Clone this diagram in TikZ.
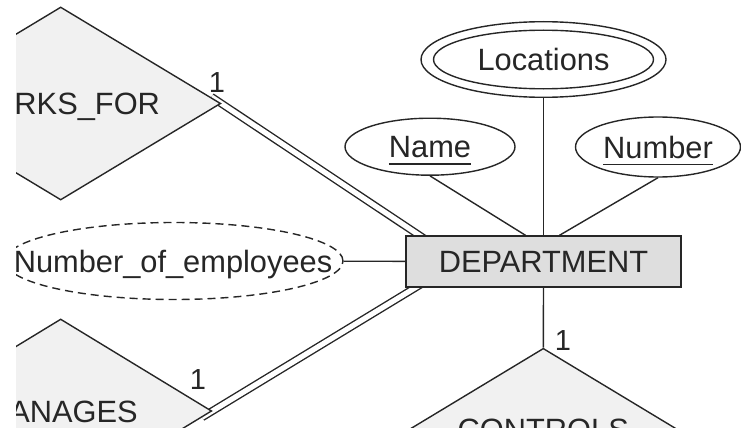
\documentclass[tikz,border=0pt]{standalone}
\usepackage{fontspec}
\setmainfont{Liberation Sans}
\usetikzlibrary{shapes.geometric}
\pgfdeclarelayer{background}
\pgfsetlayers{background,main}
\definecolor{ink}{HTML}{262626}
\definecolor{relfill}{HTML}{F1F1F1}
\definecolor{entfill}{HTML}{DEDEDE}
% key attribute: text with a rule under it
\newcommand\keyul[1]{\setbox0\hbox{#1}\rlap{\rule[-7.2pt]{\wd0}{1.7pt}}\box0}
\begin{document}
\begin{tikzpicture}[x=1pt,y=-1pt,
  every node/.style={font=\fontsize{30.8}{36}\selectfont, text=ink,
    text height=22.2pt, text depth=0pt, inner sep=0pt},
  line/.style={draw=ink, line width=1.4pt},
  attr/.style={line, ellipse, fill=white},
  rel/.style={line, diamond, aspect=1.66, fill=relfill},
  ent/.style={line, rectangle, fill=entfill},
  total/.style={draw=ink, line width=1.4pt, double=white, double distance=5.2pt,
    shorten <=-12pt, shorten >=-8pt},
  card/.style={font=\fontsize{29}{34}\selectfont, text height=20.5pt}
]
\useasboundingbox (0,0) rectangle (741,428);
\begin{scope}
  \clip (16,0) rectangle (741,428);
  % entity
  \node[ent, minimum width=275pt, minimum height=51pt] (dept) at (543.5,261.5) {DEPARTMENT};
  % relationships
  \node[rel, minimum width=320pt, minimum height=193pt] (works) at (60.7,103.5) {WORKS\_FOR};
  \node[rel, minimum width=302pt, minimum height=184pt] (manages) at (60.7,411) {MANAGES};
  \node[rel, minimum width=268pt, minimum height=162pt] (controls) at (543.3,429.3) {CONTROLS};
  % attributes
  \node[attr, minimum width=245pt, minimum height=75.6pt] (loc) at (543.5,59.5) {Locations};
  \draw[line] (loc.center) ellipse [x radius=110pt, y radius=29.3pt];
  \node[attr, minimum width=170pt, minimum height=57pt] (name) at (430,146.7) {\keyul{Name}};
  \node[attr, minimum width=165pt, minimum height=60pt] (number) at (658,147) {\keyul{Number}};
  \node[attr, dash pattern=on 8pt off 5pt, minimum width=338pt, minimum height=77pt] (noe) at (174,261) {};
  \node (noetext) at ([xshift=-1pt]noe.center) {Number\_of\_employees};
  % attribute links
  \draw[line] (loc.south) -- (dept.north);
  \draw[line] (name.south) -- ([xshift=-18pt]dept.north);
  \draw[line] (number.south) -- ([xshift=16pt]dept.north);
  \draw[line] (noe) -- (dept);
  \draw[line] (dept.south) -- (controls.north);
  % cardinalities
  \node[card] (c1) at (217,82) {1};
  \node[card] (c2) at (198,379) {1};
  \node[card] (c3) at (563,340) {1};
\end{scope}
\begin{pgfonlayer}{background}
  \clip (16,0) rectangle (741,428);
  % total participation links, ends tucked under the filled shapes
  \draw[total] (works.east) -- ([xshift=14pt]dept.north west);
  \draw[total] (manages.east) -- ([xshift=10pt]dept.south west);
\end{pgfonlayer}
\end{tikzpicture}
\end{document}
